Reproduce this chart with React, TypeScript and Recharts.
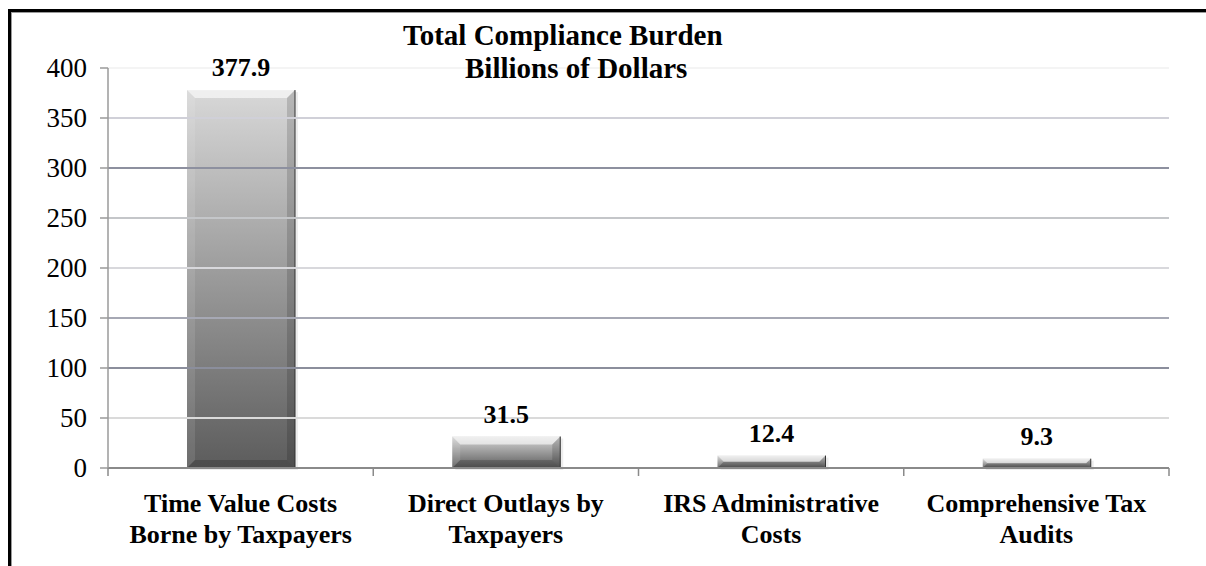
import { BarChart, Bar, XAxis, YAxis, ReferenceLine, LabelList } from 'recharts';

const categories = [
    'Time Value Costs\nBorne by Taxpayers',
    'Direct Outlays by\nTaxpayers',
    'IRS Administrative\nCosts',
    'Comprehensive Tax\nAudits',
];
const burden = [377.9, 31.5, 12.4, 9.3];
const yTicks = [0, 50, 100, 150, 200, 250, 300, 350, 400];
const titleLines = ['Total Compliance Burden', 'Billions of Dollars'];

// gridline tones keyed by tick index (style only)
const gridColors = ['#8a8a8a', '#dadada', '#8b8e9c', '#a6a8b4', '#d8d8dc', '#c4c6c9', '#8d909f', '#d0d0d8', '#f4f4f4'];

const W = 1206;
const H = 566;
const PLOT_LEFT = 108;
const PLOT_RIGHT = 1169;
const PLOT_TOP = 68;
const PLOT_BOTTOM = 468;
const FONT = "'Liberation Serif', 'Times New Roman', serif";

const data = categories.map((name, i) => ({ name, value: burden[i] }));
const bandHalf = (PLOT_RIGHT - PLOT_LEFT) / categories.length / 2;

const CategoryTick = (props: any) => {
    const { x, y, payload, index } = props;
    const lines = String(payload.value).split('\n');
    return (
        <g>
            <line x1={x + bandHalf} x2={x + bandHalf} y1={y} y2={y + 8} stroke="#8a8a8a" strokeWidth={1.5} />
            {index === 0 && (
                <line x1={x - bandHalf} x2={x - bandHalf} y1={y} y2={y + 8} stroke="#8a8a8a" strokeWidth={1.5} />
            )}
            <text x={x} y={y + 44} textAnchor="middle" style={{ fontFamily: FONT, fontSize: 26, fontWeight: 'bold' }} fill="#000">
                {lines.map((l, i) => (
                    <tspan key={i} x={x} dy={i === 0 ? 0 : 31}>{l}</tspan>
                ))}
            </text>
        </g>
    );
};

const ValueTick = (props: any) => {
    const { x, y, payload } = props;
    return (
        <text x={x} y={y} dy="0.35em" textAnchor="end" style={{ fontFamily: FONT, fontSize: 27 }} fill="#000">
            {payload.value}
        </text>
    );
};

const BevelBar = (props: any) => {
    const { x, y, width, height } = props;
    if (!height || height <= 0) return null;
    const b = Math.min(8, height / 2);
    return (
        <g>
            <rect x={x + 3} y={y + 2} width={width} height={height} fill="#000" opacity={0.07} />
            <rect x={x} y={y} width={width} height={height} fill="url(#barGrad)" />
            <polygon
                points={`${x},${y} ${x + width},${y} ${x + width - b},${y + b} ${x + b},${y + b}`}
                fill="#fff"
                opacity={0.6}
            />
            <polygon
                points={`${x},${y} ${x + b},${y + b} ${x + b},${y + height - b} ${x},${y + height}`}
                fill="#fff"
                opacity={0.1}
            />
            <polygon
                points={`${x + width},${y} ${x + width - b},${y + b} ${x + width - b},${y + height - b} ${x + width},${y + height}`}
                fill="#000"
                opacity={0.15}
            />
            <polygon
                points={`${x},${y + height} ${x + b},${y + height - b} ${x + width - b},${y + height - b} ${x + width},${y + height}`}
                fill="#000"
                opacity={0.18}
            />
            <line x1={x + width} x2={x + width} y1={y} y2={y + height} stroke="#333" strokeWidth={1} />
        </g>
    );
};

const App = () => {
    return (
        <div style={{ position: 'absolute', left: 0, top: 0, width: W, height: H, background: '#fff', overflow: 'hidden' }}>
            <div
                style={{
                    position: 'absolute',
                    left: 8,
                    top: 9,
                    width: W,
                    height: H,
                    borderLeft: '3px solid #000',
                    borderTop: '3px solid #000',
                    boxShadow: 'inset 1px 1px 0 #9a9a9a',
                }}
            />
            <div style={{ position: 'absolute', left: 0, top: 0 }}>
                <BarChart
                    width={W}
                    height={H}
                    data={data}
                    margin={{ top: PLOT_TOP, right: W - PLOT_RIGHT, bottom: 0, left: PLOT_LEFT - 100 }}
                >
                    <defs>
                        <linearGradient id="barGrad" x1="0" y1="0" x2="0" y2="1">
                            <stop offset="0%" stopColor="#d8d8d8" />
                            <stop offset="100%" stopColor="#5c5c5c" />
                        </linearGradient>
                    </defs>
                    {yTicks.slice(1).map((t, i) => (
                        <ReferenceLine key={t} y={t} stroke={gridColors[i + 1]} strokeWidth={2} />
                    ))}
                    <XAxis
                        dataKey="name"
                        interval={0}
                        height={H - PLOT_BOTTOM}
                        tickLine={false}
                        tickSize={0}
                        tickMargin={0}
                        axisLine={{ stroke: '#8a8a8a', strokeWidth: 2 }}
                        tick={<CategoryTick />}
                    />
                    <YAxis
                        width={100}
                        domain={[0, 400]}
                        ticks={yTicks}
                        interval={0}
                        tickSize={8}
                        tickMargin={13}
                        axisLine={{ stroke: '#9a9a9a', strokeWidth: 1.5 }}
                        tickLine={{ stroke: '#9a9a9a', strokeWidth: 1.5 }}
                        tick={<ValueTick />}
                    />
                    <Bar dataKey="value" barSize={108} shape={<BevelBar />} isAnimationActive={false}>
                        <LabelList
                            dataKey="value"
                            position="top"
                            offset={14}
                            style={{ fontFamily: FONT, fontSize: 26, fontWeight: 'bold', fill: '#000' }}
                        />
                    </Bar>
                </BarChart>
            </div>
            {/* title sits above the gridlines */}
            <svg width={W} height={100} style={{ position: 'absolute', left: 0, top: 0, pointerEvents: 'none' }}>
                <text x={403} y={45} style={{ fontFamily: FONT, fontSize: 29, fontWeight: 'bold' }} fill="#000">
                    {titleLines[0]}
                </text>
                <text x={465} y={78} style={{ fontFamily: FONT, fontSize: 29, fontWeight: 'bold' }} fill="#000">
                    {titleLines[1]}
                </text>
            </svg>
        </div>
    );
};

export default App;
